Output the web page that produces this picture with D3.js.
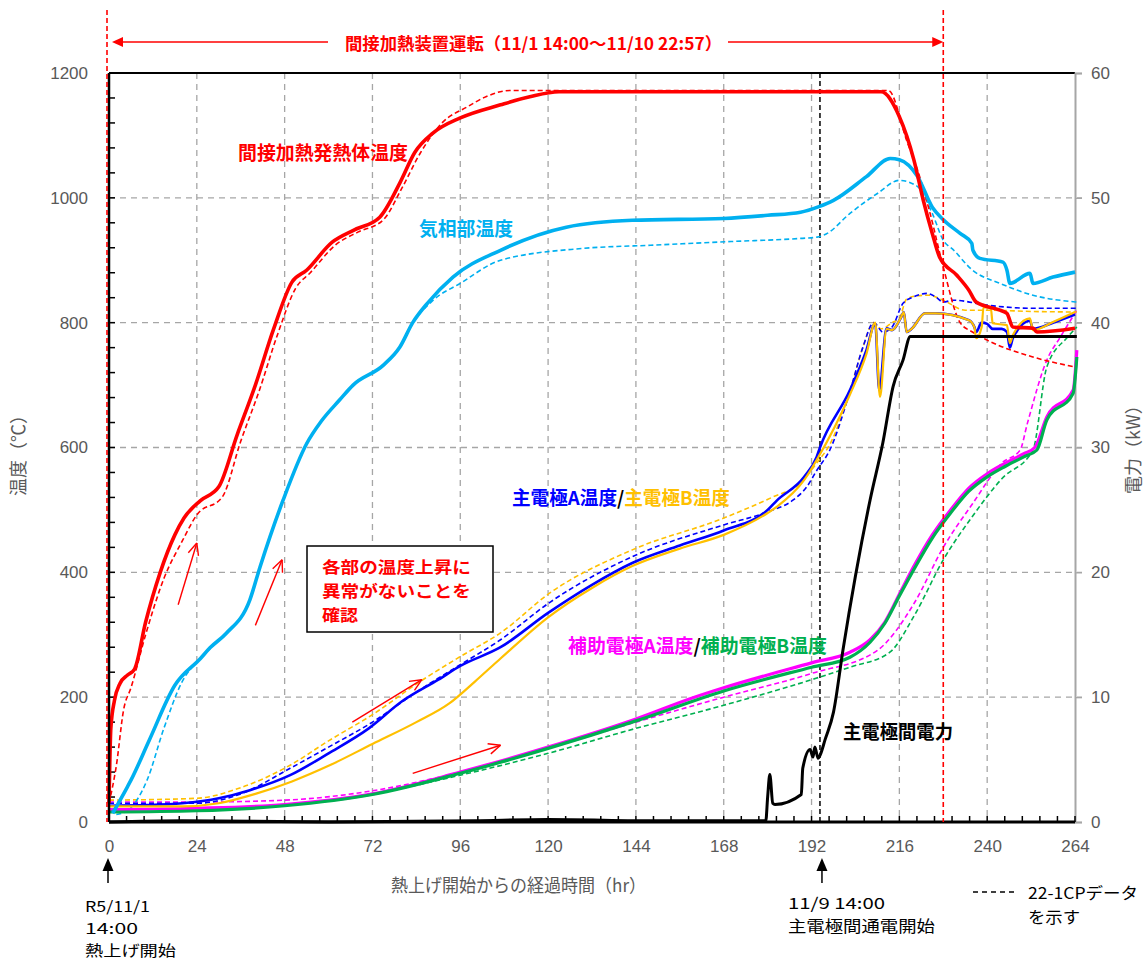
<!DOCTYPE html>
<html><head><meta charset="utf-8">
<script src="https://cdn.jsdelivr.net/npm/d3@7"></script>
<style>
body{margin:0;background:#fff;}
svg{display:block;}
.jp{font-family:"Noto Sans CJK JP","Noto Sans",sans-serif;}
.num{font-family:"Liberation Sans",Arial,sans-serif;}
</style></head>
<body><svg id="c" width="1145" height="960"></svg>
<script>
// ---- data (hours, °C / kW) ----
const xTicks = [0,24,48,72,96,120,144,168,192,216,240,264];
const yTicks = [0,200,400,600,800,1000,1200];
const y2Ticks = [0,10,20,30,40,50,60];

const heaterTemp = [[0,30],[0.5,150],[1.5,195],[3,222],[5,235],[7,245],[10,320],[14,400],[18,460],[20.5,487],[25,515],[30,537],[35,620],[40,700],[45,790],[50,865],[54,884],[61,929],[66.8,948],[74,969],[79.5,1024],[83.6,1073],[88.6,1104],[96,1128],[107,1149],[115,1162],[123,1170],[211,1170],[216,1130],[220,1060],[222.5,997],[225,943],[227,905],[231.7,876],[235,852],[237,833],[243.5,820],[245.4,815],[247,793],[252.6,791],[253.6,785],[264,791]];
const heaterTempRef = [[0,30],[2,90],[4,180],[6,215],[10,300],[15,390],[20,450],[24,492],[31,521],[36,610],[41,690],[46,780],[51,855],[55,880],[62,925],[68,945],[75,965],[80,1015],[85,1071],[91,1120],[98,1146],[103,1162],[109.6,1172],[213,1172],[218,1092],[221.6,1033],[224.4,975],[228,889],[232.6,800],[236,785],[240,772],[252.5,745],[264,729]];
const gasTemp = [[1,14],[5,56],[6,67],[11,131],[18,219],[25,262],[27.6,279],[32,302],[38.5,356],[41.3,409],[47.6,516],[54,606],[58,642],[63,676],[66.7,700],[75,732],[79.5,761],[83,800],[87,831],[94,873],[107,916],[125,953],[143,964],[168,967],[180,972],[189,977],[194,986],[198,996],[207,1034],[213.5,1063],[216,1061],[221,1034],[225,985],[228,965],[232.6,943],[235.8,927],[236.1,916],[238,903],[244.3,897],[245.4,884],[246.2,863],[251.7,879],[252.5,863],[258,873],[264,881]];
const gasTempRef = [[2,12],[5,18],[10.4,67],[15,150],[20,225],[25,262],[28,280],[32,302],[38.5,356],[41.3,409],[47.6,516],[54,606],[58,642],[63,676],[66.7,700],[75,732],[79.5,761],[82,790],[88.6,836],[96,863],[107,900],[129.6,919],[148,924],[170,930],[189,935],[193.5,937],[196,942],[202.5,975],[210,1007],[216,1028],[221,1018],[225,975],[228,932],[230.7,917],[236,884],[243.5,863],[252.5,844],[264.5,833]];
const mainA = [[0,26],[10,27],[20,30],[30,38],[38.5,51],[49.5,75],[60,110],[71,150],[80,193],[90,228],[96,250],[107,280],[120,335],[132,380],[143,415],[156,443],[168,467],[180,500],[182.5,515],[190,553],[193.4,585],[194.3,600],[202.5,692],[207,756],[209.4,799],[210.5,692],[212.5,791],[214,788],[216.5,809],[217.2,817],[218,785],[219.5,791],[223,815],[226,815],[235,804],[236.5,793],[237,785],[238.5,800],[240,798],[241.5,790],[244,790],[245.4,785],[246.2,760],[247,775],[251.7,803],[252.5,790],[258,800],[264,813]];
const mainB = [[0,25],[20,25],[30,30],[40,45],[50,65],[60,90],[72,125],[84,160],[93,190],[100,225],[107,262],[120,328],[132,375],[143,410],[156,438],[168,460],[180,495],[182.5,505],[190,548],[193.4,580],[202.5,685],[207,750],[209.4,800],[210.7,681],[212.5,790],[214,788],[216.5,809],[217.2,817],[218,785],[219.5,791],[223,815],[226,815],[235,804],[236.5,793],[237,775],[238.5,793],[239,825],[241,823],[241.5,799],[245.4,796],[246.2,767],[247,780],[251.7,807],[252.5,788],[258,801],[264,817]];
const mainARef = [[0,30],[24,30],[36,45],[49.5,86],[60,120],[72,160],[85,212],[96,252],[107,292],[120.5,352],[143,425],[168,476],[180,497],[187,516],[190.7,537],[193.5,564],[197,596],[202.5,690],[206,760],[209,800],[211.5,785],[214,793],[217,831],[219.8,841],[223.5,847],[226,841],[228,833],[230.7,836],[240,828],[252.5,823],[264.5,823]];
const mainBRef = [[0,35],[24,38],[36,55],[49.5,91],[60,130],[72,172],[85,225],[96,265],[107,303],[120.5,367],[143,436],[168,487],[181.5,521],[189,543],[193.4,575],[197,605],[202.5,690],[206,760],[209,800],[211,790],[214,800],[216,807],[218,838],[221,843],[224,844],[228,836],[234,820],[240,820],[252,818],[264.5,817]];
const subA = [[0,20],[24,22],[48,28],[72,45],[96,80],[120,120],[144,165],[159.6,199],[168,215],[192,255],[202.5,272],[208,292],[212,320],[216,365],[220,410],[225,460],[230,500],[235,535],[240,558],[245,575],[250,590],[253,600],[256.3,649],[263.5,692],[264.5,756]];
const subB = [[0,16],[24,18],[48,26],[72,44],[96,78],[120,118],[144,162],[168,210],[192,248],[202.5,264],[208,288],[212,318],[216,362],[220,405],[225,455],[230,495],[235,530],[240,553],[245,570],[250,585],[253.6,596],[256.3,644],[263.5,687],[264.5,745]];
const subARef = [[0,32],[24,32],[48,35],[72,50],[96,80],[120,118],[144,160],[168,200],[192,238],[210,275],[220,350],[228,440],[236,510],[244,575],[249,596],[251,639],[256.3,740],[260,777],[264.5,820]];
const subBRef = [[0,20],[24,22],[48,28],[72,45],[96,75],[120,110],[144,150],[168,187],[192,228],[202.5,248],[213.4,272],[220,330],[228,420],[236,490],[244,550],[252.5,596],[256.3,729],[262,777],[264.5,793]];
const power = [[0,0],[20,0.1],[60,0],[100,0.1],[120,0.2],[150,0.1],[179.5,0.1],[180,2],[180.6,3.8],[181.4,1.5],[182,1.4],[189.2,2.2],[189.6,4.3],[191.6,5.8],[192.4,5.2],[192.9,6.0],[193.8,5.1],[194.4,5.4],[195.7,6.6],[198,8.8],[200.6,13.8],[208,25.8],[211.5,30.4],[214.3,34.9],[217,37.0],[219,38.9],[264.5,38.9]];

const markerHeatStart = 0, markerHeatEnd = 228, markerPowerStart = 194.3;

// ---- scales ----
const svg = d3.select("#c");
const L=109,R=1075,T=73,B=822;
const x = d3.scaleLinear().domain([0,264]).range([L,R]);
const y = d3.scaleLinear().domain([0,1200]).range([B,T]);
const y2 = d3.scaleLinear().domain([0,60]).range([B,T]);

const gridC="#A6A6A6";
svg.append("g").selectAll("line").data(xTicks.slice(1,-1)).join("line")
  .attr("x1",d=>x(d)).attr("x2",d=>x(d)).attr("y1",T).attr("y2",B)
  .attr("stroke",gridC).attr("stroke-width",1.3).attr("stroke-dasharray","6,5");
svg.append("g").selectAll("line").data(yTicks.slice(1,-1)).join("line")
  .attr("x1",L).attr("x2",R+7).attr("y1",d=>y(d)).attr("y2",d=>y(d))
  .attr("stroke",gridC).attr("stroke-width",1.3).attr("stroke-dasharray","6,5");

svg.append("line").attr("x1",L).attr("x2",R).attr("y1",T).attr("y2",T).attr("stroke","#000").attr("stroke-width",2);
const ax2 = svg.append("g").attr("transform",`translate(${R},0)`)
  .call(d3.axisRight(y2).tickValues(y2Ticks).tickSize(7).tickPadding(9).tickFormat(d3.format("d")));
ax2.select(".domain").attr("stroke","#A6A6A6").attr("stroke-width",2);
ax2.selectAll(".tick line").attr("stroke","#A6A6A6").attr("stroke-width",1.3);
ax2.selectAll("text").attr("class","num").attr("font-size",17).attr("fill","#595959");

const yMinor = d3.range(0,1201,40);
svg.append("g").selectAll("line").data(yMinor).join("line")
  .attr("x1",L).attr("x2",L+6).attr("y1",d=>y(d)).attr("y2",d=>y(d)).attr("stroke","#000").attr("stroke-width",1.5);
const ax1 = svg.append("g").attr("transform",`translate(${L},0)`)
  .call(d3.axisLeft(y).tickValues(yTicks).tickSize(0).tickPadding(21).tickFormat(d3.format("d")));
ax1.select(".domain").remove();
ax1.selectAll("text").attr("class","num").attr("font-size",17).attr("fill","#595959");

const xMinor = d3.range(0,264.01,4.8);
svg.append("g").selectAll("line").data(xMinor).join("line")
  .attr("x1",d=>x(d)).attr("x2",d=>x(d)).attr("y1",B).attr("y2",B-6).attr("stroke","#000").attr("stroke-width",1.5);
const ax0 = svg.append("g").attr("transform",`translate(0,${B})`)
  .call(d3.axisBottom(x).tickValues(xTicks).tickSize(0).tickPadding(18).tickFormat(d3.format("d")));
ax0.select(".domain").remove();
ax0.selectAll("text").attr("class","num").attr("font-size",17).attr("fill","#595959");

svg.append("line").attr("x1",x(markerPowerStart)).attr("x2",x(markerPowerStart)).attr("y1",T).attr("y2",B)
  .attr("stroke","#000").attr("stroke-width",1.5).attr("stroke-dasharray","5,3");

const line = (ys)=>d3.line().x(d=>x(d[0])).y(d=>ys(d[1])).curve(d3.curveMonotoneX);
function draw(data, color, w, dashed, ys=y){
  svg.append("path").datum(data).attr("d",line(ys)).attr("fill","none").attr("stroke",color)
    .attr("stroke-width",w).attr("stroke-linejoin","round").attr("stroke-dasharray",dashed?"5,3":null);
}
const cRed="#FF0000", cCyan="#00B0F0", cBlue="#0000FF", cOrange="#FFC000", cMag="#FF00FF", cGreen="#00B050";
draw(subBRef,cGreen,1.6,true);
draw(subARef,cMag,1.6,true);
draw(mainBRef,cOrange,1.6,true);
draw(mainARef,cBlue,1.6,true);
draw(gasTempRef,cCyan,1.6,true);
draw(heaterTempRef,cRed,1.6,true);
draw(subA,cMag,3.2,false);
draw(subB,cGreen,3.2,false);
draw(mainA,cBlue,2.6,false);
draw(mainB,cOrange,2.2,false);
draw(gasTemp,cCyan,3.6,false);
draw(heaterTemp,cRed,3.6,false);
draw(power,"#000",3,false,y2);

svg.append("line").attr("x1",L).attr("x2",L).attr("y1",T).attr("y2",B).attr("stroke","#000").attr("stroke-width",2.5);
svg.append("line").attr("x1",L).attr("x2",R).attr("y1",B).attr("y2",B).attr("stroke","#000").attr("stroke-width",3);

[markerHeatStart, markerHeatEnd].forEach(t=>{
  svg.append("line").attr("x1",x(t)-(t===0?2:0)).attr("x2",x(t)-(t===0?2:0)).attr("y1",10).attr("y2",B)
    .attr("stroke",cRed).attr("stroke-width",1.6).attr("stroke-dasharray","5,3");
});

// top arrow
const ay=42;
svg.append("line").attr("x1",x(0)+8).attr("x2",328).attr("y1",ay).attr("y2",ay).attr("stroke",cRed).attr("stroke-width",1.6);
svg.append("line").attr("x1",728).attr("x2",x(markerHeatEnd)-8).attr("y1",ay).attr("y2",ay).attr("stroke",cRed).attr("stroke-width",1.6);
svg.append("path").attr("d",`M${x(0)+3},${ay}L${x(0)+14},${ay-5}L${x(0)+14},${ay+5}Z`).attr("fill",cRed);
svg.append("path").attr("d",`M${x(markerHeatEnd)},${ay}L${x(markerHeatEnd)-11},${ay-5}L${x(markerHeatEnd)-11},${ay+5}Z`).attr("fill",cRed);
svg.append("text").attr("class","jp").attr("x",345).attr("y",50).attr("font-size",17).attr("font-weight","bold")
  .attr("fill",cRed).attr("textLength",377).attr("lengthAdjust","spacingAndGlyphs").text("間接加熱装置運転（11/1 14:00～11/10 22:57）");

function lbl(tx,ty,parts,len){
  const t=svg.append("text").attr("class","jp").attr("x",tx).attr("y",ty).attr("font-size",19).attr("font-weight","bold");
  if(len) t.attr("textLength",len).attr("lengthAdjust","spacingAndGlyphs");
  parts.forEach(p=>t.append("tspan").attr("fill",p[1]).text(p[0]));
}
lbl(238,160,[["間接加熱発熱体温度",cRed]],170);
lbl(419,236,[["気相部温度",cCyan]],94);
lbl(512,505,[["主電極A温度",cBlue],["/","#000"],["主電極B温度",cOrange]],218);
lbl(568,653,[["補助電極A温度",cMag],["/","#000"],["補助電極B温度",cGreen]],259);
lbl(843,739,[["主電極間電力","#000"]],110);

function multi(tx,ty,lines,opts){
  lines.forEach((l,i)=>{
    const t=svg.append("text").attr("class","jp").attr("x",tx).attr("y",ty+opts.lh*i)
      .attr("font-size",opts.size).attr("fill",opts.color||"#000").attr("font-weight",opts.bold?"bold":null).text(l[0]);
    if(l[1]) t.attr("textLength",l[1]).attr("lengthAdjust","spacingAndGlyphs");
  });
}

svg.append("rect").attr("x",307).attr("y",546).attr("width",186).attr("height",86).attr("fill","#fff").attr("stroke","#000").attr("stroke-width",1.5);
multi(322,573,[["各部の温度上昇に",149],["異常がないことを",149],["確認",36]],{size:16.4,color:cRed,bold:true,lh:24});

const redArrows=[[[18.9,348],[24,447]],[[40,315],[47.3,420]],[[66.5,160],[85.5,228]],[[83,78],[107,123]]];
redArrows.forEach(a=>{
  const x1=x(a[0][0]),y1=y(a[0][1]),x2=x(a[1][0]),y2_=y(a[1][1]);
  const ang=Math.atan2(y2_-y1,x2-x1), hl=13, ha=0.42;
  svg.append("line").attr("x1",x1).attr("y1",y1).attr("x2",x2).attr("y2",y2_).attr("stroke",cRed).attr("stroke-width",1.4);
  [ang+Math.PI-ha, ang+Math.PI+ha].forEach(b=>{
    svg.append("line").attr("x1",x2).attr("y1",y2_).attr("x2",x2+hl*Math.cos(b)).attr("y2",y2_+hl*Math.sin(b)).attr("stroke",cRed).attr("stroke-width",1.4);
  });
});

function upArrow(px){
  svg.append("line").attr("x1",px).attr("x2",px).attr("y1",868).attr("y2",883).attr("stroke","#000").attr("stroke-width",1.5);
  svg.append("path").attr("d",`M${px},858L${px-5.5},871L${px+5.5},871Z`).attr("fill","#000");
}
upArrow(x(0)-1);
upArrow(x(markerPowerStart)+2);

multi(85,912,[["R5/11/1",65],["14:00",53],["熱上げ開始",91]],{size:14.9,lh:21.75});
multi(788,909,[["11/9 14:00",97],["主電極間通電開始",147]],{size:15.6,lh:23});
svg.append("line").attr("x1",973).attr("x2",1017).attr("y1",892).attr("y2",892).attr("stroke","#000").attr("stroke-width",1.5).attr("stroke-dasharray","5,4");
multi(1028,899,[["22-1CPデータ",110],["を示す",52]],{size:16,lh:24});
svg.append("text").attr("class","jp").attr("x",391).attr("y",892).attr("font-size",18).attr("fill","#595959")
  .attr("textLength",255).attr("lengthAdjust","spacingAndGlyphs").text("熱上げ開始からの経過時間（hr）");

svg.append("text").attr("class","jp").attr("transform","translate(25,451) rotate(-90)").attr("text-anchor","middle")
  .attr("font-size",18).attr("fill","#595959").text("温度（℃）");
svg.append("text").attr("class","jp").attr("transform","translate(1140,445) rotate(-90)").attr("text-anchor","middle")
  .attr("font-size",18).attr("fill","#595959").text("電力（kW）");
</script></body></html>
